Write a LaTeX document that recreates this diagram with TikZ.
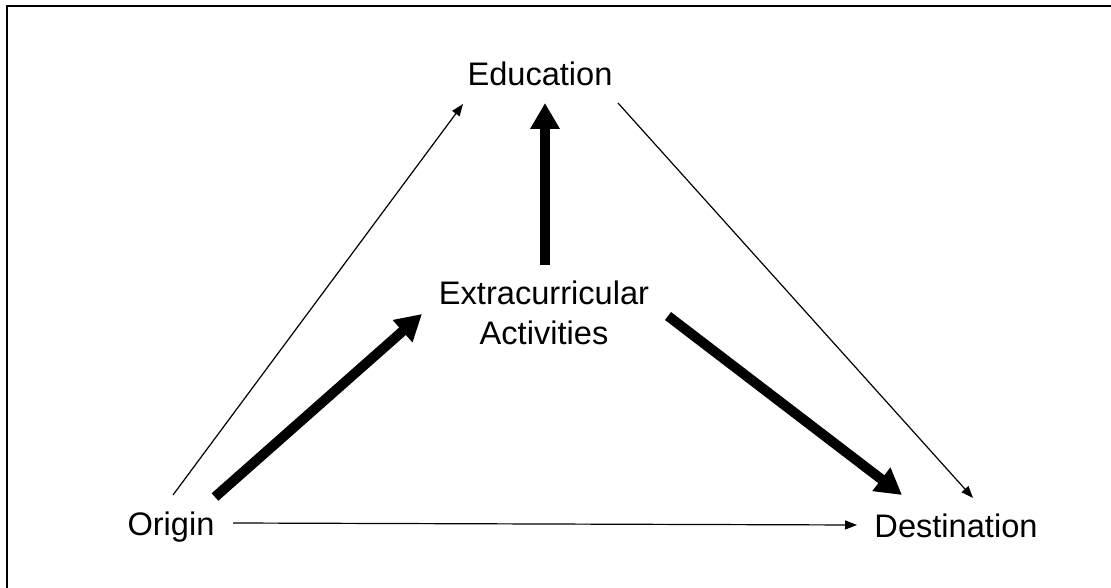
\documentclass[tikz,border=0pt]{standalone}
\usepackage{fontspec}
\setmainfont{Liberation Sans}
\usetikzlibrary{arrows.meta}
\begin{document}
\begin{tikzpicture}[x=1pt,y=-1pt,
  label/.style={inner sep=0pt, font=\fontsize{32.6}{40}\selectfont, align=center},
  thin/.style={line width=1.2pt, -{Triangle[length=12pt,width=9pt]}},
  thick/.style={line width=10pt, -{Triangle[length=26pt,width=28pt]}}]
  \useasboundingbox (0,0) rectangle (1111,588);
  % frame along the top and left edges
  \draw[line width=2.5pt] (7,588) -- (7,6) -- (1111,6);

  % labels
  \node[label, anchor=base] (edu) at (540,86) {Education};
  \node[label] (ext) at (544,313) {Extracurricular\\Activities};
  \node[label, anchor=base] (orig) at (171,535) {Origin};
  \node[label, anchor=base] (dest) at (956,537) {Destination};

  % direct paths
  \draw[thin] ([shift={(2,-40)}]orig.base) -- ([shift={(-77,18)}]edu.base);
  \draw[thin] ([shift={(78,17)}]edu.base) -- ([shift={(17,-39)}]dest.base);
  \draw[thin] ([shift={(62,-12)}]orig.base) -- ([shift={(-99,-12)}]dest.base);

  % paths through extracurricular activities
  \draw[thick] ([shift={(1,-48)}]ext.center) -- ([shift={(5,17)}]edu.base);
  \draw[thick] ([shift={(44,-38)}]orig.base) -- ([shift={(-122,1)}]ext.center);
  \draw[thick] ([shift={(124,3)}]ext.center) -- ([shift={(-54,-42)}]dest.base);
\end{tikzpicture}
\end{document}
